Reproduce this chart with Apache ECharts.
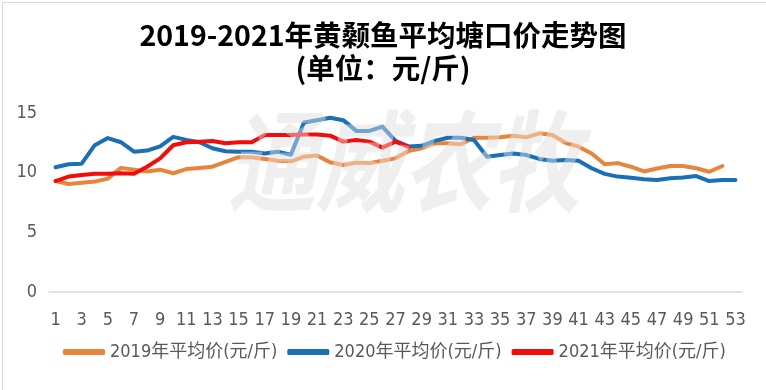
<!DOCTYPE html>
<html><head><meta charset="utf-8">
<script src="https://cdn.jsdelivr.net/npm/echarts@6/dist/echarts.min.js"></script>
<style>html,body{margin:0;padding:0;background:#fff}#c{width:766px;height:390px}</style>
</head><body><div id="c"></div>
<script>
const titleText = '2019-2021年黄颡鱼平均塘口价走势图\n(单位：元/斤)';
const weeks = Array.from({length: 53}, (_, i) => String(i + 1));
const yTicks = [0, 5, 10, 15];
const seriesNames = ['2019年平均价(元/斤)', '2020年平均价(元/斤)', '2021年平均价(元/斤)'];
const price2019 = [9.3, 9.05, 9.15, 9.25, 9.5, 10.4, 10.25, 10.1, 10.25, 9.95,
  10.3, 10.4, 10.5, 10.9, 11.3, 11.3, 11.15, 11.0, 10.95, 11.34,
  11.43, 10.87, 10.64, 10.84, 10.8, 11.0, 11.2, 11.82, 12.05, 12.46,
  12.46, 12.38, 12.93, 12.93, 12.96, 13.1, 12.96, 13.3, 13.15, 12.5,
  12.18, 11.6, 10.7, 10.8, 10.5, 10.1, 10.35, 10.56, 10.56, 10.37,
  10.08, 10.56];
const price2020 = [10.45, 10.7, 10.75, 12.3, 12.9, 12.55, 11.76, 11.85, 12.2, 13.0,
  12.75, 12.55, 12.05, 11.8, 11.76, 11.76, 11.6, 11.76, 11.5, 14.2,
  14.4, 14.6, 14.4, 13.5, 13.5, 13.86, 12.66, 12.2, 12.25, 12.66,
  12.93, 12.93, 12.74, 11.34, 11.48, 11.6, 11.48, 11.15, 11.0, 11.06,
  11.0, 10.37, 9.9, 9.67, 9.58, 9.45, 9.39, 9.53, 9.6, 9.72,
  9.3, 9.39, 9.39];
const price2021 = [9.3, 9.67, 9.8, 9.9, 9.9, 9.95, 9.9, 10.5, 11.2, 12.3,
  12.55, 12.6, 12.66, 12.46, 12.55, 12.55, 13.16, 13.16, 13.16, 13.2,
  13.2, 13.1, 12.6, 12.74, 12.6, 12.1, 12.6, 12.15];
const colors = ['#E8843C', '#1B6FB6', '#F20C0C'];
const watermark = '通威农牧';

const chart = echarts.init(document.getElementById('c'), null, {renderer: 'canvas'});
const narrow = "'Liberation Sans Narrow','DejaVu Sans Condensed','Noto Sans CJK SC',sans-serif";
const mk = (name, data, color) => ({
  name, type: 'line', data, symbol: 'none', smooth: false,
  lineStyle: {color, width: 4, cap: 'round', join: 'round'},
  itemStyle: {color}, z: 3
});
const wmFont = "italic bold 88px 'Noto Sans CJK SC'";
const wm = (fill, z) => ({type: 'text', x: 228, y: 106, scaleY: 1.25, z, silent: true,
  style: {text: watermark, fill, font: wmFont}});
chart.setOption({
  backgroundColor: '#fff',
  animation: false,
  color: colors,
  title: {
    text: titleText, left: 'center', top: 14,
    textStyle: {fontFamily: "'Noto Sans CJK SC',sans-serif", fontWeight: 'bold', fontSize: 28.5, lineHeight: 33, color: '#000'}
  },
  graphic: [
    {type: 'rect', left: 0, top: 0, shape: {width: 765, height: 389}, style: {fill: 'none', stroke: '#d9d9d9', lineWidth: 1}, silent: true, z: 0},
    wm('#ececec', 1),
    wm('rgba(245,245,245,0.4)', 10)
  ],
  legend: {
    bottom: 24, left: 58, itemGap: 10, itemWidth: 42, itemHeight: 6, icon: 'roundRect',
    textStyle: {fontFamily: narrow, fontSize: 18, color: '#595959'},
    data: seriesNames
  },
  grid: {left: 49, right: 24, top: 113, bottom: 98},
  xAxis: {
    type: 'category', data: weeks, boundaryGap: true,
    axisLine: {show: true, lineStyle: {color: '#d9d9d9', width: 1.5}},
    axisTick: {show: false},
    axisLabel: {interval: 1, color: '#595959', fontSize: 18, fontFamily: narrow, margin: 19}
  },
  yAxis: {
    type: 'value', min: yTicks[0], max: yTicks[yTicks.length - 1], interval: 5,
    axisLine: {show: false}, axisTick: {show: false}, splitLine: {show: false},
    axisLabel: {color: '#595959', fontSize: 18, fontFamily: narrow, margin: 12}
  },
  series: [
    mk(seriesNames[0], price2019, colors[0]),
    mk(seriesNames[1], price2020, colors[1]),
    mk(seriesNames[2], price2021, colors[2])
  ]
});
</script></body></html>
